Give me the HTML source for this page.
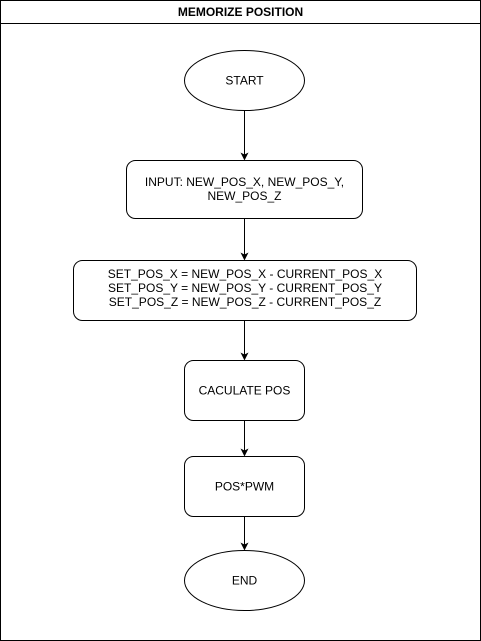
<!DOCTYPE html>
<html><head><style>html,body{margin:0;padding:0;background:#fff}svg{display:block}</style></head><body>
<svg width="481" height="641" viewBox="0 0 481 641" xmlns="http://www.w3.org/2000/svg" font-family="Liberation Sans, Arial, sans-serif" font-size="12">
<defs><marker id="a" markerWidth="8" markerHeight="8" refX="7" refY="4" orient="auto" markerUnits="userSpaceOnUse"><path d="M0,0 L8,4 L0,8 L2,4 z" fill="#000"/></marker></defs>
<rect x="0.5" y="0.5" width="480" height="640" fill="#fff" stroke="#000"/>
<line x1="0.5" y1="23.5" x2="480.5" y2="23.5" stroke="#000"/>
<text x="240.5" y="16" text-anchor="middle" font-weight="bold">MEMORIZE POSITION</text>
<g fill="#fff" stroke="#000">
<ellipse cx="244.5" cy="80.5" rx="60" ry="30"/>
<rect x="126.5" y="160.5" width="236" height="58" rx="9"/>
<rect x="73.5" y="260.5" width="343" height="60" rx="9"/>
<rect x="184.5" y="360.5" width="120" height="60" rx="9"/>
<rect x="184.5" y="456.5" width="120" height="60" rx="9"/>
<ellipse cx="244.5" cy="580.5" rx="60" ry="30"/>
</g>
<g stroke="#000" marker-end="url(#a)">
<line x1="244.5" y1="110.5" x2="244.5" y2="159.5"/>
<line x1="244.5" y1="218.5" x2="244.5" y2="259.5"/>
<line x1="244.5" y1="320.5" x2="244.5" y2="359.5"/>
<line x1="244.5" y1="420.5" x2="244.5" y2="455.5"/>
<line x1="244.5" y1="516.5" x2="244.5" y2="549.5"/>
</g>
<g text-anchor="middle" fill="#000">
<text x="244.5" y="84.5">START</text>
<text x="244.5" y="186">INPUT: NEW_POS_X, NEW_POS_Y,</text>
<text x="244.5" y="200">NEW_POS_Z</text>
<text x="245" y="278">SET_POS_X = NEW_POS_X - CURRENT_POS_X</text>
<text x="245" y="292">SET_POS_Y = NEW_POS_Y - CURRENT_POS_Y</text>
<text x="245" y="306">SET_POS_Z = NEW_POS_Z - CURRENT_POS_Z</text>
<text x="244.5" y="394.5">CACULATE POS</text>
<text x="244.5" y="490.5">POS*PWM</text>
<text x="244.5" y="584.5">END</text>
</g>
</svg>
</body></html>
